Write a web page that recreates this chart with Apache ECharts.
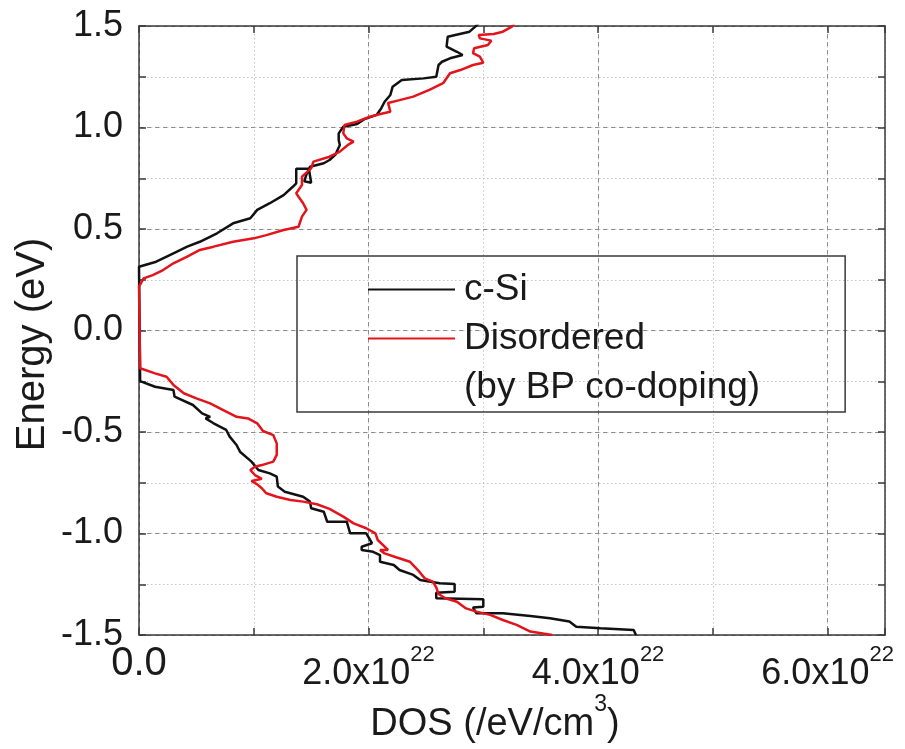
<!DOCTYPE html>
<html>
<head>
<meta charset="utf-8">
<script src="https://cdn.jsdelivr.net/npm/echarts@6.0.0/dist/echarts.min.js"></script>
<style>
	html, body { margin: 0; padding: 0; background: #fff; }
	#dosChart { width: 905px; height: 749px; }
</style>
</head>
<body>
<div id="dosChart"></div>
<script>
// DOS in units of 1e22 /eV/cm3, energy in eV (ordered bottom to top)
const cSiEnergy = [-1.500,-1.475,-1.467,-1.459,-1.434,-1.418,-1.406,-1.393,-1.393,-1.364,-1.361,-1.324,-1.319,-1.292,-1.287,-1.249,-1.245,-1.229,-1.204,-1.180,-1.155,-1.139,-1.106,-1.090,-1.081,-1.065,-1.048,-0.999,-0.999,-0.942,-0.942,-0.893,-0.876,-0.843,-0.819,-0.794,-0.769,-0.720,-0.704,-0.687,-0.646,-0.597,-0.564,-0.523,-0.490,-0.457,-0.433,-0.425,-0.408,-0.367,-0.326,-0.293,-0.277,-0.249,-0.249,
	0.314,0.339,0.380,0.413,0.437,0.479,0.528,0.553,0.594,0.627,0.667,0.708,0.725,0.797,0.797,0.728,0.735,0.770,0.807,0.824,0.840,0.865,0.914,0.938,0.971,1.004,1.017,1.040,1.062,1.094,1.127,1.160,1.201,1.234,1.242,1.250,1.308,1.324,1.341,1.357,1.373,1.398,1.447,1.472,1.497,1.520];
const cSiDos = [4.33,4.31,4.02,3.81,3.75,3.58,3.41,3.17,2.94,2.91,3.00,3.00,2.59,2.59,2.75,2.75,2.62,2.45,2.39,2.27,2.22,2.10,2.10,2.04,1.94,1.94,2.03,1.98,1.84,1.81,1.64,1.61,1.50,1.49,1.43,1.27,1.21,1.20,1.14,1.04,0.98,0.88,0.85,0.79,0.76,0.65,0.58,0.62,0.55,0.47,0.31,0.30,0.14,0.01,0,
	0,0.15,0.30,0.42,0.53,0.68,0.82,0.97,1.03,1.14,1.26,1.34,1.37,1.37,1.48,1.50,1.44,1.46,1.49,1.61,1.66,1.71,1.75,1.74,1.74,1.78,1.90,1.96,2.07,2.11,2.14,2.19,2.21,2.29,2.48,2.59,2.61,2.64,2.71,2.82,2.77,2.68,2.69,2.88,2.93,2.97];

const disorderedEnergy = [-1.500,-1.483,-1.450,-1.426,-1.401,-1.385,-1.369,-1.336,-1.319,-1.298,-1.265,-1.237,-1.221,-1.180,-1.139,-1.117,-1.098,-1.081,-1.081,-1.032,-0.999,-0.974,-0.950,-0.917,-0.879,-0.856,-0.843,-0.835,-0.819,-0.802,-0.777,-0.758,-0.741,-0.731,-0.712,-0.687,-0.671,-0.663,-0.646,-0.613,-0.556,-0.515,-0.495,-0.457,-0.433,-0.425,-0.400,-0.359,-0.334,-0.309,-0.268,-0.228,-0.211,-0.186,-0.186,
	0.216,0.257,0.273,0.298,0.331,0.364,0.397,0.413,0.437,0.454,0.470,0.495,0.511,0.561,0.594,0.627,0.659,0.676,0.717,0.758,0.799,0.832,0.856,0.881,0.914,0.930,0.947,0.971,1.012,1.029,1.053,1.070,1.078,1.121,1.135,1.152,1.185,1.218,1.267,1.283,1.308,1.319,1.349,1.366,1.390,1.406,1.428,1.439,1.456,1.461,1.472,1.497,1.520];
const disorderedDos = [3.60,3.41,3.29,3.17,3.06,2.94,2.85,2.77,2.67,2.61,2.59,2.56,2.49,2.43,2.36,2.24,2.14,2.10,2.17,2.08,2.06,1.98,1.87,1.78,1.66,1.55,1.43,1.32,1.20,1.11,1.07,1.03,0.98,1.07,1.01,0.97,1.01,1.07,1.17,1.20,1.20,1.17,1.08,1.03,0.95,0.85,0.76,0.62,0.50,0.39,0.30,0.24,0.14,0.01,0,
	0,0.04,0.12,0.21,0.30,0.42,0.53,0.65,0.82,1.00,1.11,1.26,1.39,1.42,1.46,1.43,1.39,1.37,1.42,1.42,1.50,1.52,1.66,1.75,1.82,1.87,1.81,1.78,1.79,1.90,2.01,2.13,2.19,2.17,2.27,2.39,2.53,2.65,2.71,2.80,2.91,3.00,2.97,2.91,2.92,3.04,3.07,2.97,2.96,3.09,3.17,3.25,3.28];

const xLabelValues = [0, 2, 4, 6];
const yLabelValues = [-1.5, -1.0, -0.5, 0.0, 0.5, 1.0, 1.5];

const toPairs = (dos, energy) => energy.map((e, i) => [dos[i], e]);

const frameLine = { onZero: false, lineStyle: { color: "#3a3a3a", width: 1.5 } };
const frameTick = { show: true, inside: true, length: 7, lineStyle: { color: "#3a3a3a", width: 1.5 } };
const dotted = { show: true, lineStyle: { color: "#c4c4c4", width: 1, type: [1.5, 2.5] } };
const dashedMajor = { show: true, lineStyle: { color: ["#8c8c8c", "rgba(0,0,0,0)"], width: 1, type: [4, 4] } };

let option = {
	backgroundColor: "#ffffff",
	animation: false,
	grid: { left: 139, right: 20, top: 26, bottom: 114 },
	legend: {
		orient: "vertical",
		left: 297,
		top: 256,
		padding: [9, 85, 0, 71],
		itemWidth: 87,
		itemHeight: 2,
		itemGap: 0,
		selectedMode: false,
		borderColor: "#3a3a3a",
		borderWidth: 1.5,
		itemStyle: { borderWidth: 0 },
		textStyle: {
			fontFamily: "Liberation Sans",
			fontSize: 37,
			lineHeight: 49,
			color: "#1a1a1a",
			padding: [0, 0, 0, 4]
		},
		data: [
			{ name: "c-Si", icon: "rect" },
			{ name: "Disordered", icon: "rect" },
			{ name: "(by BP co-doping)", icon: "none" }
		]
	},
	xAxis: [
		{
			type: "value",
			position: "bottom",
			min: 0,
			max: 6.5,
			interval: 1,
			name: "{n|DOS (/eV/cm}{s|3}{n|)}",
			nameLocation: "middle",
			nameGap: 58,
			nameMoveOverlap: false,
			nameTextStyle: {
				padding: [0, 34, 0, 0],
				rich: {
					n: { fontFamily: "Liberation Sans", fontSize: 38, color: "#1a1a1a", lineHeight: 51, verticalAlign: "bottom" },
					s: { fontFamily: "Liberation Sans", fontSize: 23, color: "#1a1a1a", lineHeight: 51, verticalAlign: "top" }
				}
			},
			axisLine: frameLine,
			axisTick: frameTick,
			axisLabel: {
				margin: 9,
				formatter: function(value) {
					if (value === 0) return "{z|0.0}";
					if (xLabelValues.indexOf(value) === -1) return "";
					return "{b|" + value.toFixed(1) + "x10}{s|22}";
				},
				rich: {
					z: { fontFamily: "Liberation Sans", fontSize: 40, color: "#1a1a1a", lineHeight: 48, verticalAlign: "top" },
					b: { fontFamily: "Liberation Sans", fontSize: 36, color: "#1a1a1a", lineHeight: 48, verticalAlign: "bottom" },
					s: { fontFamily: "Liberation Sans", fontSize: 22, color: "#1a1a1a", lineHeight: 48, verticalAlign: "top" }
				}
			},
			splitLine: dotted
		},
		{
			type: "value",
			position: "top",
			min: 0,
			max: 6.5,
			interval: 1,
			axisLine: frameLine,
			axisTick: frameTick,
			axisLabel: { show: false },
			splitLine: dashedMajor
		}
	],
	yAxis: [
		{
			type: "value",
			position: "left",
			min: -1.5,
			max: 1.5,
			interval: 0.25,
			name: "Energy (eV)",
			nameLocation: "middle",
			nameGap: 86,
			nameMoveOverlap: false,
			nameTextStyle: {
				fontFamily: "Liberation Sans",
				fontSize: 40,
				color: "#1a1a1a",
				padding: [0, 28, 0, 0]
			},
			axisLine: frameLine,
			axisTick: frameTick,
			axisLabel: {
				margin: 16,
				fontFamily: "Liberation Sans",
				fontSize: 36,
				color: "#1a1a1a",
				formatter: function(value) {
					for (let v of yLabelValues) {
						if (Math.abs(v - value) < 1e-6) return v.toFixed(1);
					}
					return "";
				}
			},
			splitLine: dotted
		},
		{
			type: "value",
			position: "right",
			min: -1.5,
			max: 1.5,
			interval: 0.25,
			axisLine: frameLine,
			axisTick: frameTick,
			axisLabel: { show: false },
			splitLine: dashedMajor
		}
	],
	series: [
		{
			name: "c-Si",
			type: "line",
			data: toPairs(cSiDos, cSiEnergy),
			symbol: "none",
			color: "#111111",
			lineStyle: { color: "#111111", width: 2.5 }
		},
		{
			name: "Disordered",
			type: "line",
			data: toPairs(disorderedDos, disorderedEnergy),
			symbol: "none",
			color: "#e3141b",
			lineStyle: { color: "#e3141b", width: 2.5 }
		},
		{
			name: "(by BP co-doping)",
			type: "line",
			data: [],
			symbol: "none",
			color: "#ffffff"
		}
	]
};

let dom = document.getElementById("dosChart");
let dosChart = echarts.init(dom);
dosChart.setOption(option, true);
</script>
</body>
</html>
